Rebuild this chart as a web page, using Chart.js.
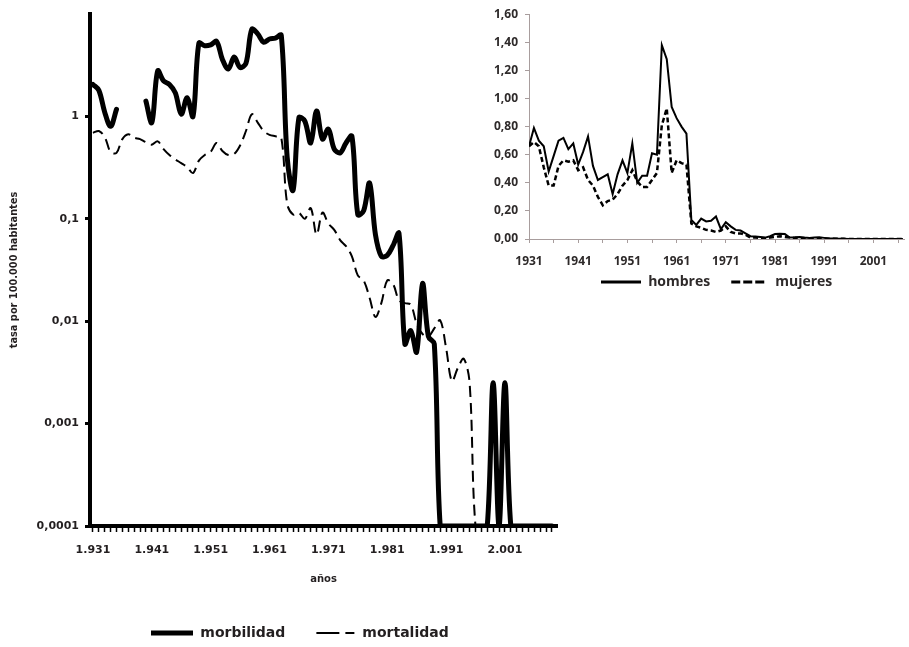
<!DOCTYPE html>
<html>
<head>
<meta charset="utf-8">
<script src="https://cdn.jsdelivr.net/npm/chart.js@4/dist/chart.umd.min.js"></script>
<style>
    html, body { margin: 0; padding: 0; background: #fff; }
    #wrap { position: relative; width: 909px; height: 647px; overflow: hidden; }
    #main { position: absolute; left: 0; top: 0; }
    #inset { position: absolute; left: 470px; top: 0; }
</style>
</head>
<body>
<div id="wrap">
    <canvas id="main" width="600" height="647"></canvas>
    <canvas id="inset" width="439" height="300"></canvas>
</div>
<script>
// main chart: yearly rates per 100.000, 1931-2009 (null = no data, 0 = no cases)
const years = Array.from({ length: 79 }, (_, i) => 1931 + i);
const morbilidad = [
    2.05, 1.8, 1.1, 0.8, 1.17, null, null, null, null,              // 1931-1939
    1.41, 0.87, 2.78, 2.22, 2.05, 1.7, 1.05, 1.52, 1.0, 5.2,        // 1940-1949
    4.9, 5.0, 5.4, 3.6, 2.9, 3.8, 3.0, 3.3, 7.1, 6.4,               // 1950-1959
    5.3, 5.7, 5.8, 6.2, 0.4, 0.19, 0.97, 0.9, 0.55, 1.13,           // 1960-1969
    0.6, 0.75, 0.48, 0.44, 0.55, 0.64, 0.11, 0.12, 0.224, 0.07,     // 1970-1979
    0.043, 0.044, 0.055, 0.072, 0.006, 0.0081, 0.005, 0.0234, 0.0071, 0.006, // 1980-1989
    0, 0, 0, 0, 0, 0, 0, 0, 0, 0.0025,                              // 1990-1999
    0, 0.0025, 0, 0, 0, 0, 0, 0, 0, 0                               // 2000-2009
];
const mortalidad = [
    0.69, 0.72, 0.63, 0.45, 0.44, 0.6, 0.67, 0.62, 0.6,             // 1931-1939
    0.56, 0.53, 0.57, 0.48, 0.42, 0.38, 0.35, 0.32, 0.28, 0.37,     // 1940-1949
    0.42, 0.45, 0.55, 0.46, 0.42, 0.43, 0.52, 0.72, 1.05, 0.87,     // 1950-1959
    0.72, 0.66, 0.64, 0.62, 0.14, 0.11, 0.114, 0.1, 0.127, 0.07,    // 1960-1969
    0.115, 0.09, 0.078, 0.062, 0.054, 0.043, 0.028, 0.025, 0.017, 0.011, // 1970-1979
    0.015, 0.025, 0.023, 0.016, 0.015, 0.0145, 0.0095, 0.0075, 0.0071, 0.0085, // 1980-1989
    0.0102, 0.0055, 0.0026, 0.0035, 0.0043, 0.0025, 0, 0, 0, 0,     // 1990-1999
    0, 0, 0, 0, 0, 0, 0, 0, 0, 0                                    // 2000-2009
];
const mainYTicks = [0.0001, 0.001, 0.01, 0.1, 1];
const mainXLabels = [1931, 1941, 1951, 1961, 1971, 1981, 1991, 2001];

// inset: mortality by sex, 1931-2007
const insetYears = Array.from({ length: 77 }, (_, i) => 1931 + i);
const hombres = [
    0.66, 0.79, 0.70, 0.66, 0.48, 0.59, 0.70, 0.72, 0.64,           // 1931-1939
    0.68, 0.53, 0.62, 0.73, 0.52, 0.42, 0.44, 0.46, 0.32, 0.46,     // 1940-1949
    0.56, 0.47, 0.68, 0.40, 0.45, 0.45, 0.61, 0.60, 1.38, 1.28,     // 1950-1959
    0.94, 0.86, 0.80, 0.75, 0.135, 0.10, 0.145, 0.125, 0.13, 0.16,  // 1960-1969
    0.07, 0.12, 0.09, 0.065, 0.06, 0.04, 0.02, 0.018, 0.015, 0.01,  // 1970-1979
    0.02, 0.035, 0.038, 0.035, 0.01, 0.012, 0.015, 0.01, 0.008, 0.01, // 1980-1989
    0.012, 0.008, 0.004, 0.003, 0.002, 0.002, 0, 0, 0, 0,          // 1990-1999
    0, 0, 0, 0, 0, 0, 0, 0                                          // 2000-2007
];
const mujeres = [
    0.66, 0.69, 0.66, 0.51, 0.38, 0.38, 0.52, 0.56, 0.55,           // 1931-1939
    0.56, 0.49, 0.51, 0.42, 0.38, 0.30, 0.24, 0.27, 0.28, 0.32,     // 1940-1949
    0.38, 0.42, 0.49, 0.41, 0.37, 0.37, 0.42, 0.47, 0.81, 0.93,     // 1950-1959
    0.47, 0.56, 0.54, 0.53, 0.11, 0.09, 0.08, 0.065, 0.06, 0.05,    // 1960-1969
    0.06, 0.09, 0.05, 0.04, 0.04, 0.03, 0.01, 0.01, 0.008, 0.005,   // 1970-1979
    0.01, 0.015, 0.02, 0.015, 0.01, 0.008, 0.006, 0.005, 0.004, 0.005, // 1980-1989
    0.006, 0.004, 0.002, 0.001, 0.001, 0.001, 0, 0, 0, 0,          // 1990-1999
    0, 0, 0, 0, 0, 0, 0, 0                                          // 2000-2007
];
const insetXTicks = [1931, 1936, 1941, 1946, 1951, 1956, 1961, 1966, 1971, 1976, 1981, 1986, 1991, 1996, 2001, 2006];
const insetXLabels = [1931, 1941, 1951, 1961, 1971, 1981, 1991, 2001];

const MAIN_TEXT = '#231f20';
const INSET_TEXT = '#2e2a2a';
const INSET_AXIS = '#a89d9d';
const logFloor = 0.0001;

// legend.fit() gives its own height; pin it so the chart area lands where we want
function legendHeight(h) {
    return {
        id: 'legendHeight',
        beforeUpdate(chart) {
            const lg = chart.legend;
            if (lg && !lg._pinned) {
                const fit = lg.fit;
                lg.fit = function () { fit.call(this); this.height = h; };
                lg._pinned = true;
            }
        }
    };
}

// the x scale box is kept short so the legend sits close; tick labels are
// clipped to that box, so stretch it again once the layout is done
const labelRoom = {
    id: 'labelRoom',
    afterLayout(chart) {
        const s = chart.scales.x;
        s.bottom = s.top + 40;
    }
};

// small line glyphs for the legends (point-style legends ignore borderDash)
function lineSample(w, h, lw, segs) {
    const c = document.createElement('canvas');
    c.width = w;
    c.height = h;
    const g = c.getContext('2d');
    g.strokeStyle = '#000';
    g.lineWidth = lw;
    g.beginPath();
    segs.forEach(([a, b]) => { g.moveTo(a, h / 2); g.lineTo(b, h / 2); });
    g.stroke();
    return c;
}
const mainSamples = [lineSample(42, 6, 5, [[0, 42]]), lineSample(42, 4, 2, [[3, 26], [32, 41]])];
const insetSamples = [lineSample(40, 4, 3, [[0, 40]]), lineSample(36, 4, 3, [[1, 10], [13, 22], [25, 34]])];

function legendWith(samples) {
    return chart => Chart.defaults.plugins.legend.labels.generateLabels(chart)
        .map((item, i) => Object.assign(item, { pointStyle: samples[i] }));
}

function toPoints(xs, vals, floor) {
    return xs.map((x, i) => ({ x: x, y: vals[i] === null ? null : Math.max(vals[i], floor) }));
}

const fmtYear = v => String(v).replace(/(\d)(?=\d{3}$)/, '$1.');
const mainFont = size => ({ family: 'DejaVu Sans', weight: 'bold', size: size });
const insetFont = size => ({ family: 'Open Sans', weight: 'bold', size: size });

new Chart(document.getElementById('main'), {
    type: 'line',
    data: {
        datasets: [{
            label: 'morbilidad',
            data: toPoints(years, morbilidad, logFloor),
            borderColor: '#000',
            borderWidth: 5,
            borderJoinStyle: 'round',
            borderCapStyle: 'round',
            tension: 0.35,
            pointRadius: 0,
            fill: false
        }, {
            label: 'mortalidad',
            data: toPoints(years, mortalidad, logFloor),
            borderColor: '#000',
            borderWidth: 2,
            borderDash: [11, 6],
            tension: 0.35,
            pointRadius: 0,
            fill: false
        }]
    },
    options: {
        responsive: false,
        animation: false,
        events: [],
        layout: { padding: { top: 14, left: 0, right: 0, bottom: 0 } },
        plugins: {
            tooltip: { enabled: false },
            legend: {
                position: 'bottom',
                labels: {
                    usePointStyle: true,
                    pointStyleWidth: 42,
                    padding: 28,
                    color: MAIN_TEXT,
                    font: mainFont(14),
                    generateLabels: legendWith(mainSamples)
                }
            }
        },
        scales: {
            x: {
                type: 'linear',
                min: 1930.5,
                max: 2009.85,
                afterBuildTicks: s => { s.ticks = years.map(v => ({ value: v })); },
                afterFit: s => { s.height = 72; },
                ticks: {
                    autoSkip: false,
                    maxRotation: 0,
                    padding: 12,
                    color: MAIN_TEXT,
                    font: mainFont(11),
                    callback: v => mainXLabels.includes(v) ? fmtYear(v) : ''
                },
                grid: { drawOnChartArea: false, drawTicks: true, tickLength: 6, tickWidth: 1.5, color: '#000' },
                border: { display: true, color: '#000', width: 4 },
                title: {
                    display: true,
                    text: 'años',
                    color: MAIN_TEXT,
                    font: mainFont(10),
                    padding: { top: 0, bottom: 13 }
                }
            },
            y: {
                type: 'logarithmic',
                min: 0.0001,
                max: 10,
                afterBuildTicks: s => { s.ticks = mainYTicks.map(v => ({ value: v })); },
                afterFit: s => { s.width = 90; },
                ticks: {
                    autoSkip: false,
                    padding: 6,
                    color: MAIN_TEXT,
                    font: mainFont(11),
                    callback: v => String(v).replace('.', ',')
                },
                grid: { drawOnChartArea: false, tickLength: 5, tickWidth: 3, color: '#000' },
                border: { display: true, color: '#000', width: 4 },
                title: {
                    display: true,
                    text: 'tasa por 100.000 habitantes',
                    color: MAIN_TEXT,
                    font: mainFont(9.8),
                    padding: { top: 9, bottom: 0 }
                }
            },
            // empty right axis: keeps the plot 43px short of the canvas edge
            yPad: {
                type: 'linear',
                position: 'right',
                display: true,
                afterFit: s => { s.width = 43; },
                ticks: { display: false },
                grid: { display: false, drawTicks: false },
                border: { display: false }
            }
        }
    },
    plugins: [legendHeight(49)]
});

new Chart(document.getElementById('inset'), {
    type: 'line',
    data: {
        datasets: [{
            label: 'hombres',
            data: toPoints(insetYears, hombres, 0),
            borderColor: '#000',
            borderWidth: 2,
            tension: 0,
            pointRadius: 0,
            fill: false
        }, {
            label: 'mujeres',
            data: toPoints(insetYears, mujeres, 0),
            borderColor: '#000',
            borderWidth: 2.5,
            borderDash: [5, 3],
            tension: 0,
            pointRadius: 0,
            fill: false
        }]
    },
    options: {
        responsive: false,
        animation: false,
        events: [],
        layout: { padding: { top: 14, left: 0, right: 0, bottom: 0 } },
        plugins: {
            tooltip: { enabled: false },
            legend: {
                position: 'bottom',
                fullSize: false,
                labels: {
                    usePointStyle: true,
                    pointStyleWidth: 40,
                    padding: 18,
                    color: INSET_TEXT,
                    font: insetFont(14),
                    generateLabels: legendWith(insetSamples)
                }
            }
        },
        scales: {
            x: {
                type: 'linear',
                min: 1931,
                max: 2007.3,
                afterBuildTicks: s => { s.ticks = insetXTicks.map(v => ({ value: v })); },
                afterFit: s => { s.height = 18; },
                ticks: {
                    autoSkip: false,
                    maxRotation: 0,
                    padding: 11,
                    color: INSET_TEXT,
                    font: insetFont(12),
                    callback: v => insetXLabels.includes(v) ? String(v) : ''
                },
                grid: { drawOnChartArea: false, tickLength: 4, tickWidth: 1, color: INSET_AXIS },
                border: { display: true, color: INSET_AXIS, width: 1 }
            },
            y: {
                type: 'linear',
                min: 0,
                max: 1.6,
                afterFit: s => { s.width = 59; },
                ticks: {
                    stepSize: 0.2,
                    padding: 7,
                    color: INSET_TEXT,
                    font: insetFont(12),
                    callback: v => v.toFixed(2).replace('.', ',')
                },
                grid: { drawOnChartArea: false, tickLength: 4, tickWidth: 1, color: INSET_AXIS },
                border: { display: true, color: INSET_AXIS, width: 1 }
            }
        }
    },
    plugins: [legendHeight(43), labelRoom]
});
</script>
</body>
</html>
